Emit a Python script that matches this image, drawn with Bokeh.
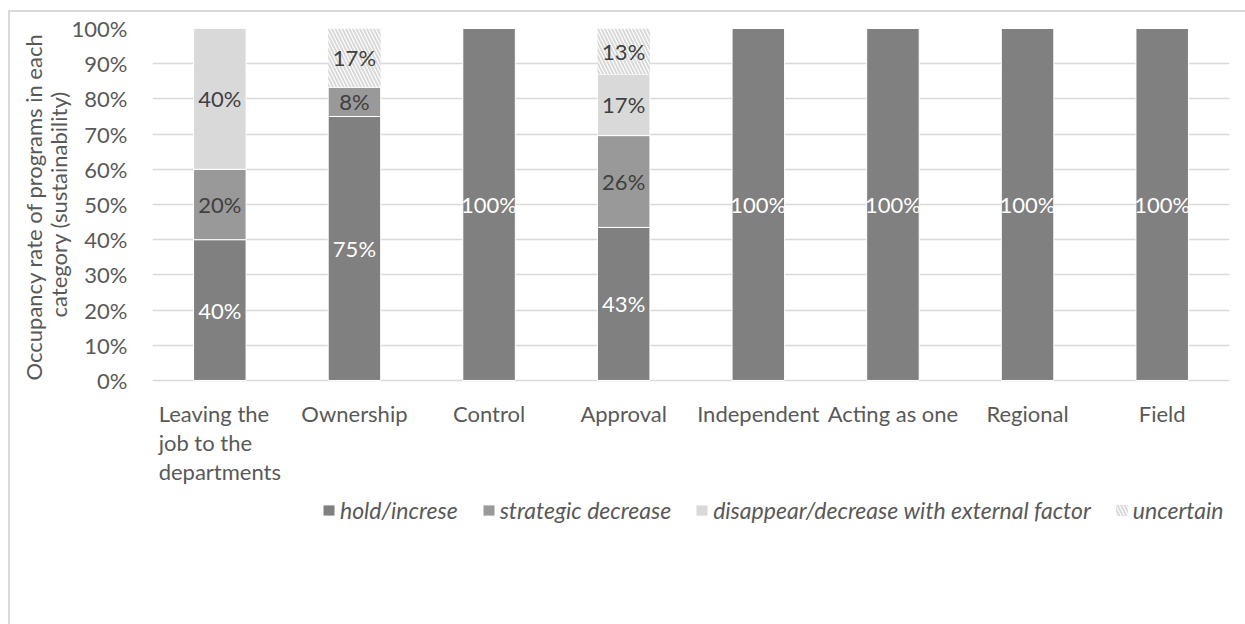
from bokeh.plotting import figure
from bokeh.models import (ColumnDataSource, FactorRange, FixedTicker, PrintfTickFormatter,
                          Legend, LegendItem, LabelSet, Title)
from bokeh.core.properties import value
from bokeh.embed import file_html
from bokeh.resources import INLINE

categories = ["Leaving the job to the departments", "Ownership", "Control", "Approval",
              "Independent", "Acting as one", "Regional", "Field"]
category_labels = ["Leaving the\njob to the\ndepartments", "Ownership", "Control", "Approval",
                   "Independent", "Acting as one", "Regional", "Field"]
hold_increse = [40, 75, 100, 43.48, 100, 100, 100, 100]
strategic_decrease = [20, 8.33, 0, 26.09, 0, 0, 0, 0]
disappear_external = [40, 0, 0, 17.39, 0, 0, 0, 0]
uncertain = [0, 16.67, 0, 13.04, 0, 0, 0, 0]
y_ticks = list(range(0, 101, 10))
y_title_lines = ["Occupancy rate of programs in each", "category (sustainability)"]

series = ["hold", "strategic", "disappear", "uncertain"]
series_names = ["hold/increse", "strategic decrease",
                "disappear/decrease with external factor", "uncertain"]
series_values = [hold_increse, strategic_decrease, disappear_external, uncertain]
fills = ["#808080", "#999999", "#d9d9d9", "#ffffff"]
label_colors = ["#ffffff", "#404040", "#404040", "#404040"]

FONT = "Lato"
FS = "22px"
TXT = "#595959"

source = ColumnDataSource(data=dict(cat=categories, **{s: v for s, v in zip(series, series_values)}))

# y range extends below 0 so that category labels and legend sit inside the frame
p = figure(x_range=FactorRange(factors=categories, range_padding=0), y_range=(-68.2, 100),
           width=1245, height=624, output_backend="svg", toolbar_location=None,
           min_border_left=152, min_border_right=16, min_border_top=28, min_border_bottom=4)
p.border_fill_color = None
p.styles = {
    "background": "linear-gradient(#d9d9d9, #d9d9d9) 8px 10px / 2px 100% no-repeat, "
                  "linear-gradient(#d9d9d9, #d9d9d9) 8px 10px / 100% 2px no-repeat, white"
}
p.outline_line_color = None

renderers = p.vbar_stack(series, x="cat", width=0.39, source=source,
                         fill_color=fills, line_color="white", line_width=1)
r_unc = renderers[3]
r_unc.glyph.hatch_pattern = "\\"
r_unc.glyph.hatch_color = "#d9d9d9"
r_unc.glyph.hatch_weight = 2
r_unc.glyph.hatch_scale = 7
r_unc.glyph.line_color = None

# data labels
lx, ly, lt, lc = [], [], [], []
for i, c in enumerate(categories):
    base = 0
    for vals, col in zip(series_values, label_colors):
        v = vals[i]
        if v > 0:
            lx.append(c)
            ly.append(base + v / 2)
            lt.append(f"{round(v)}%")
            lc.append(col)
        base += v
lsrc = ColumnDataSource(data=dict(x=lx, y=ly, t=lt, c=lc))
p.add_layout(LabelSet(x="x", y="y", text="t", source=lsrc, text_color="c",
                      text_align="center", text_baseline="middle",
                      text_font=value(FONT), text_font_size=value(FS)))

# category labels (multi-line)
csrc = ColumnDataSource(data=dict(x=categories, y=[0] * len(categories), t=category_labels))
p.add_layout(LabelSet(x="x", y="y", text="t", source=csrc, y_offset=-20,
                      text_color=TXT, text_align="center", text_baseline="top",
                      text_line_height=1.06,
                      text_font=value(FONT), text_font_size=value(FS)))

# axes
p.xaxis.visible = False
p.yaxis.ticker = FixedTicker(ticks=y_ticks)
p.yaxis.formatter = PrintfTickFormatter(format="%d%%")
p.yaxis.bounds = (0, 100)
p.ygrid.ticker = FixedTicker(ticks=y_ticks)
p.ygrid.grid_line_color = "#d9d9d9"
p.ygrid.grid_line_width = 1.5
p.xgrid.grid_line_color = None
p.yaxis.axis_line_color = None
p.yaxis.major_tick_line_color = None
p.yaxis.minor_tick_line_color = None
p.yaxis.major_label_text_font = FONT
p.yaxis.major_label_text_color = TXT
p.yaxis.major_label_text_font_size = FS
p.yaxis.major_label_standoff = 19

# y axis title: two lines, centred on the 0-100% part of the axis
for line, off, so in zip(reversed(y_title_lines), [303, 240], [-6, -2]):
    p.add_layout(Title(text=line, align="left", offset=off, standoff=so,
                       text_font=FONT, text_font_size=FS, text_font_style="normal",
                       text_color=TXT), "left")

legend = Legend(items=[LegendItem(label=n, renderers=[r]) for n, r in zip(series_names, renderers)],
                orientation="horizontal", location=(169, 96),
                label_text_font=FONT, label_text_font_size="23px", label_text_font_style="italic",
                label_text_color=TXT, border_line_color=None, background_fill_alpha=0,
                glyph_width=15, glyph_height=14, label_standoff=4, spacing=23, padding=0, margin=0)
p.add_layout(legend, "center")

open("out.html", "w").write(file_html(p, INLINE))
